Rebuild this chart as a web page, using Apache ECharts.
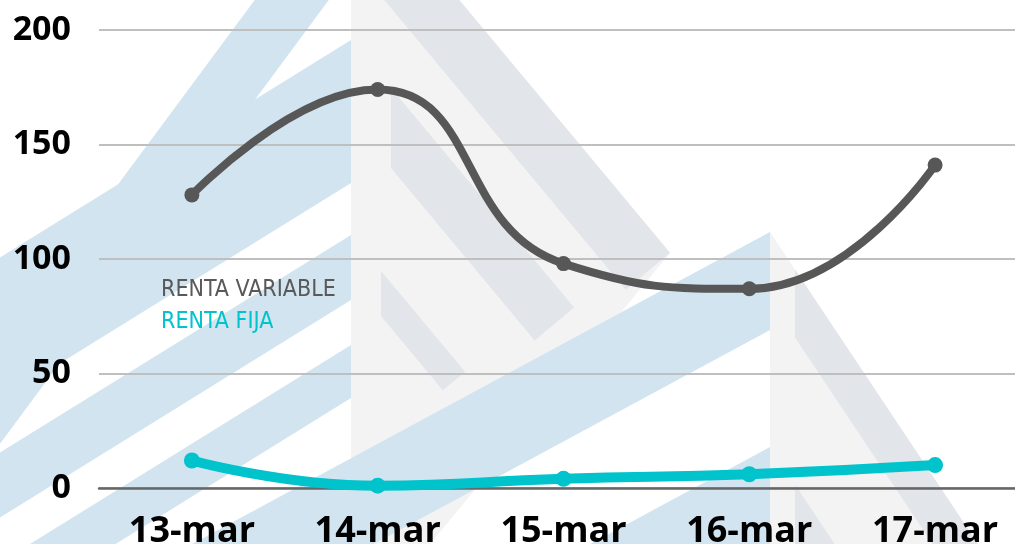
<!DOCTYPE html>
<html>
<head>
<meta charset="utf-8">
<script src="https://cdn.jsdelivr.net/npm/echarts@6/dist/echarts.min.js"></script>
<style>
html,body{margin:0;padding:0;background:#fff;}
#chart{width:1015px;height:544px;}
</style>
</head>
<body>
<div id="chart"></div>
<script>
// ---- data ----
const categories = ['13-mar', '14-mar', '15-mar', '16-mar', '17-mar'];
const rentaVariable = [128, 174, 98, 87, 141];
const rentaFija = [12, 1, 4, 6, 10];
const seriesNames = ['RENTA VARIABLE', 'RENTA FIJA'];
const yTicks = { min: 0, max: 200, interval: 50 };

// ---- decorative watermark (logo-like chevrons) ----
const BLUE = '#d1e4ef', DARK = '#e2e5ea', LIGHT = '#f3f3f3';
function leftArm(ax, yT, yB, m) {
  const x0 = -80;
  return [[ax, yT], [ax, yB], [x0, yB + m * (ax - x0)], [x0, yT + m * (ax - x0)]];
}
function rightArm(ax, yT, yB, m, xEnd, inset) {
  const yE = yT + m * (xEnd - ax);
  const t = (yB - yT) / (1 + m * m);
  const q = [xEnd - m * t, yE + t];
  const s = ax + (inset || 0);
  return [[s, yT + m * (s - ax)], [xEnd, yE], q, [s, yB + m * (s - ax)]];
}
function poly(points, fill) {
  return { type: 'polygon', silent: true, z: -10, shape: { points: points }, style: { fill: fill } };
}
const wm = [];
// top group, apex x = 351
wm.push(poly([[351, -130], [670, 253], [351, 640]], LIGHT));
wm.push(poly(rightArm(351, -130, -40, 1.2, 670, 30), DARK));
wm.push(poly(rightArm(351, 40, 120, 1.2, 574, 40), DARK));
wm.push(poly(rightArm(351, 235, 280, 1.2, 465, 30), DARK));
wm.push(poly(leftArm(351, -130, -30, 1.35), BLUE));
wm.push(poly(leftArm(351, 40, 183, 0.62), BLUE));
wm.push(poly(leftArm(351, 235, 300, 0.62), BLUE));
wm.push(poly(leftArm(351, 345, 398, 0.62), BLUE));
// bottom group, apex x = 770
wm.push(poly([[770, 232], [1100, 727], [770, 727]], LIGHT));
wm.push(poly(rightArm(770, 232, 300, 1.5, 1150, 25), DARK));
wm.push(poly(rightArm(770, 447, 510, 1.5, 1150, 25), DARK));
wm.push(poly(leftArm(770, 232, 330, 0.54), BLUE));
wm.push(poly(leftArm(770, 447, 545, 0.54), BLUE));

const chart = echarts.init(document.getElementById('chart'), null, { renderer: 'canvas' });
chart.setOption({
  animation: false,
  backgroundColor: '#ffffff',
  graphic: { elements: wm },
  grid: { left: 99, right: -13, top: 30, bottom: 56, containLabel: false, outerBoundsMode: 'none' },
  legend: {
    data: [
      { name: seriesNames[0], textStyle: { color: '#595959' } },
      { name: seriesNames[1], textStyle: { color: '#00c3cc' } }
    ],
    orient: 'vertical',
    left: 156,
    top: 279,
    icon: 'none',
    itemWidth: 0,
    itemHeight: 0,
    itemGap: 9,
    padding: 0,
    selectedMode: false,
    textStyle: {
      fontFamily: "'Liberation Sans Narrow', 'DejaVu Sans Condensed', sans-serif",
      fontSize: 23,
      padding: 0
    }
  },
  xAxis: {
    type: 'category',
    data: categories,
    boundaryGap: true,
    axisLine: { lineStyle: { color: '#666666', width: 2.5 } },
    axisTick: { show: false },
    axisLabel: {
      interval: 0,
      margin: 26,
      color: '#000',
      fontFamily: "'Open Sans', sans-serif",
      fontWeight: 'bold',
      fontSize: 36
    },
    splitLine: { show: false }
  },
  yAxis: {
    type: 'value',
    min: yTicks.min,
    max: yTicks.max,
    interval: yTicks.interval,
    axisLine: { show: false },
    axisTick: { show: false },
    axisLabel: {
      margin: 28,
      color: '#000',
      fontFamily: "'Open Sans', sans-serif",
      fontWeight: 'bold',
      fontSize: 34
    },
    splitLine: { lineStyle: { color: '#bfbfbf', width: 2 } }
  },
  series: [
    {
      name: seriesNames[0],
      type: 'line',
      data: rentaVariable,
      smooth: 0.5,
      symbol: 'circle',
      symbolSize: 15,
      lineStyle: { color: '#575757', width: 8 },
      itemStyle: { color: '#575757' },
      z: 3
    },
    {
      name: seriesNames[1],
      type: 'line',
      data: rentaFija,
      smooth: 0.5,
      symbol: 'circle',
      symbolSize: 16,
      lineStyle: { color: '#00c3cc', width: 10 },
      itemStyle: { color: '#00c3cc' },
      z: 4
    }
  ]
});
</script>
</body>
</html>
